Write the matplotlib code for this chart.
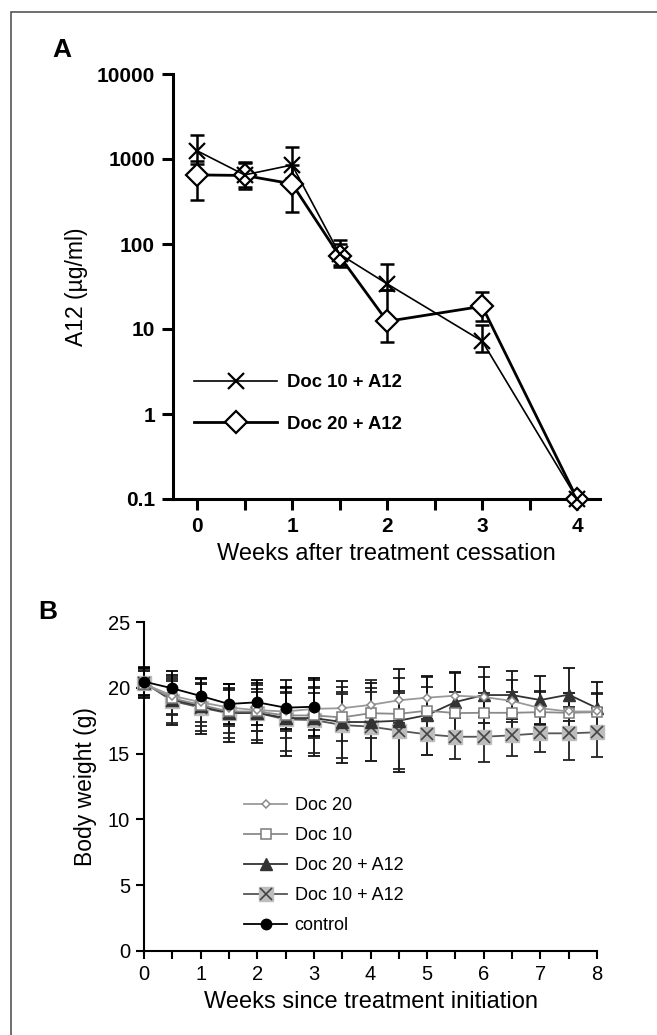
import matplotlib
matplotlib.use("Agg")
import matplotlib.pyplot as plt
from matplotlib.patches import Rectangle
from matplotlib.legend_handler import HandlerTuple
import numpy as np

plt.rcParams['font.family'] = ['Liberation Sans', 'DejaVu Sans']

# ---------------- Panel A data ----------------
weeks_a = [0, 0.5, 1, 1.5, 2, 3, 4]
doc10_a12_conc = [1250, 650, 850, 76, 34, 7.2, 0.1]
doc10_a12_hi = [1900, 900, 1400, 110, 58, 11, 0.1]
doc10_a12_lo = [880, 440, 600, 56, 29, 5.3, 0.1]
doc20_a12_conc = [650, 640, 510, 72, 12.3, 18.5, 0.1]
doc20_a12_hi = [950, 920, 850, 100, 29, 27, 0.1]
doc20_a12_lo = [330, 470, 235, 54, 7.0, 12.5, 0.1]
a_yticks = [0.1, 1, 10, 100, 1000, 10000]
a_yticklabels = ['0.1', '1', '10', '100', '1000', '10000']
a_xticks = [0, 1, 2, 3, 4]

# ---------------- Panel B data ----------------
weeks_b = [0, 0.5, 1, 1.5, 2, 2.5, 3, 3.5, 4, 4.5, 5, 5.5, 6, 6.5, 7, 7.5, 8]
doc20_w = [20.3, 19.4, 18.9, 18.5, 18.3, 18.2, 18.4, 18.45, 18.7, 19.05, 19.25, 19.4, 19.3, 19.0, 18.45, 18.2, 18.2]
doc20_e = [1.0, 1.4, 1.5, 1.4, 1.6, 1.5, 1.6, 1.6, 1.9, 1.7, 1.6, 1.7, 1.5, 1.6, 1.3, 1.4, 1.4]
doc10_w = [20.3, 19.2, 18.7, 18.2, 18.2, 17.9, 17.9, 17.75, 18.07, 18.02, 18.26, 18.08, 18.1, 18.1, 18.15, 18.1, 18.15]
doc10_e = [1.0, 1.3, 1.6, 1.6, 1.5, 1.7, 1.7, 1.8, 1.9, 1.7, 1.8, 1.6, 1.5, 1.6, 1.5, 1.5, 1.4]
doc20a_w = [20.4, 19.1, 18.6, 18.1, 18.1, 17.7, 17.7, 17.4, 17.4, 17.5, 17.93, 18.92, 19.45, 19.45, 19.07, 19.48, 18.46]
doc20a_e = [1.2, 1.9, 2.1, 2.2, 2.3, 2.9, 2.9, 3.1, 3.0, 3.9, 3.0, 2.3, 2.1, 1.8, 1.8, 2.0, 2.0]
doc10a_w = [20.4, 19.0, 18.5, 18.06, 18.1, 17.6, 17.55, 17.17, 17.05, 16.74, 16.46, 16.28, 16.28, 16.39, 16.54, 16.54, 16.62]
doc10a_e = [1.0, 1.7, 1.8, 1.9, 2.1, 2.4, 2.5, 2.5, 2.6, 2.9, 1.6, 1.7, 1.9, 1.6, 1.45, 2.0, 1.85]
weeks_ctrl = [0, 0.5, 1, 1.5, 2, 2.5, 3]
ctrl_w = [20.47, 19.96, 19.38, 18.77, 18.9, 18.49, 18.56]
ctrl_e = [1.0, 1.3, 1.4, 1.5, 1.7, 1.6, 2.2]
b_yticks = [0, 5, 10, 15, 20, 25]
b_xticks = [0, 1, 2, 3, 4, 5, 6, 7, 8]

W, H = 657, 1035
fig = plt.figure(figsize=(W / 100, H / 100), dpi=100)

# Figure border
fig.patches.append(Rectangle((11 / W, -0.01), 1.2, 1 - 12 / H + 0.01, transform=fig.transFigure,
                             fill=False, edgecolor='#555555', linewidth=1.2))

# ================= Panel A =================
axA = fig.add_axes([173 / W, 1 - 499 / H, (600 - 173) / W, (499 - 74) / H])
axA.set_yscale('log')
xa = np.array(weeks_a)
c1 = np.array(doc10_a12_conc)
c2 = np.array(doc20_a12_conc)
err1 = [c1 - np.array(doc10_a12_lo), np.array(doc10_a12_hi) - c1]
err2 = [c2 - np.array(doc20_a12_lo), np.array(doc20_a12_hi) - c2]

axA.errorbar(xa, c2, yerr=err2, fmt='none', ecolor='black', elinewidth=1.8, capsize=4.7, capthick=1.8, clip_on=False)
axA.errorbar(xa, c1, yerr=err1, fmt='none', ecolor='black', elinewidth=1.8, capsize=4.7, capthick=1.8, clip_on=False)
l1, = axA.plot(xa, c1, color='black', lw=1.2, marker='x', ms=12, mew=1.6, label='Doc 10 + A12', clip_on=False, zorder=4)
l2, = axA.plot(xa, c2, color='black', lw=2.0, marker='D', ms=11, mew=1.6, mfc='white', mec='black',
               label='Doc 20 + A12', clip_on=False, zorder=3)

axA.set_ylim(0.1, 10000)
axA.set_xlim(-0.253, 4.24)
axA.set_yticks(a_yticks)
axA.set_yticklabels(a_yticklabels)
axA.yaxis.set_minor_locator(matplotlib.ticker.NullLocator())
axA.set_xticks(a_xticks)
axA.set_xticks([0.5, 1.5, 2.5, 3.5], minor=True)
for s in ['top', 'right']:
    axA.spines[s].set_visible(False)
for s in ['left', 'bottom']:
    axA.spines[s].set_linewidth(2.2)
axA.tick_params(which='both', direction='out', length=8, width=2.2, labelsize=15, pad=5)
for t in axA.get_xticklabels() + axA.get_yticklabels():
    t.set_fontweight('bold')
axA.set_ylabel('A12 (µg/ml)', fontsize=16.5, labelpad=6)
axA.set_xlabel('Weeks after treatment cessation', fontsize=17, labelpad=5)
axA.legend(handles=[l1, l2], loc='center left', bbox_to_anchor=(194 / W, 1 - 403.5 / H),
           bbox_transform=fig.transFigure, frameon=False, borderaxespad=0, borderpad=0,
           handlelength=4.5, handletextpad=0.55, labelspacing=1.3,
           prop={'size': 13.3, 'weight': 'bold'})

fig.text(62 / W, 1 - 50 / H, 'A', fontsize=19, fontweight='bold', ha='center', va='center')

# ================= Panel B =================
axB = fig.add_axes([144 / W, 1 - 951 / H, (597 - 144) / W, (951 - 622) / H])
xb = np.array(weeks_b)
ek = dict(fmt='none', elinewidth=1.3, capsize=4, capthick=1.3, clip_on=False)
axB.errorbar(xb, doc20_w, yerr=doc20_e, ecolor='#222222', **ek)
axB.errorbar(xb, doc10_w, yerr=doc10_e, ecolor='#222222', **ek)
axB.errorbar(xb, doc20a_w, yerr=doc20a_e, ecolor='#111111', **ek)
axB.errorbar(xb, doc10a_w, yerr=doc10a_e, ecolor='#222222', **ek)
axB.errorbar(weeks_ctrl, ctrl_w, yerr=ctrl_e, ecolor='black', **ek)

hb1, = axB.plot(xb, doc20_w, color='#9a9a9a', lw=1.3, marker='D', ms=4.5, mfc='white', mec='#8a8a8a', mew=1.1,
                label='Doc 20', zorder=6, clip_on=False)
hb2, = axB.plot(xb, doc10_w, color='#8a8a8a', lw=1.3, marker='s', ms=7, mfc='white', mec='#7a7a7a', mew=1.1,
                label='Doc 10', zorder=5, clip_on=False)
hb3, = axB.plot(xb, doc20a_w, color='#333333', lw=1.3, marker='^', ms=8.5, mfc='#333333', mec='#333333',
                label='Doc 20 + A12', zorder=4, clip_on=False)
hb4a, = axB.plot(xb, doc10a_w, color='#555555', lw=1.3, marker='s', ms=10.5, mfc='#bdbdbd', mec='#bdbdbd',
                 zorder=3, clip_on=False)
hb4b, = axB.plot(xb, doc10a_w, color='#555555', lw=0, marker='x', ms=8.5, mew=1.2, mec='#444444',
                 zorder=3.5, clip_on=False)
hb5, = axB.plot(weeks_ctrl, ctrl_w, color='black', lw=1.3, marker='o', ms=7.5, mfc='black', mec='black',
                label='control', zorder=7, clip_on=False)

axB.set_xlim(0, 8)
axB.set_ylim(0, 25)
axB.set_yticks(b_yticks)
axB.set_xticks(b_xticks)
axB.set_xticks(np.arange(0.5, 8, 1.0), minor=True)
for s in ['top', 'right']:
    axB.spines[s].set_visible(False)
for s in ['left', 'bottom']:
    axB.spines[s].set_linewidth(1.5)
axB.tick_params(which='both', direction='out', length=6, width=1.5, labelsize=14.5, pad=4)
axB.set_ylabel('Body weight (g)', fontsize=16.5, labelpad=8)
axB.set_xlabel('Weeks since treatment initiation', fontsize=17, labelpad=5)
axB.legend(handles=[hb1, hb2, hb3, (hb4a, hb4b), hb5],
           labels=['Doc 20', 'Doc 10', 'Doc 20 + A12', 'Doc 10 + A12', 'control'],
           handler_map={tuple: HandlerTuple(ndivide=1, pad=0)},
           loc='center left', bbox_to_anchor=(244 / W, 1 - 866 / H), bbox_transform=fig.transFigure,
           frameon=False, borderaxespad=0, borderpad=0, handlelength=2.4, handletextpad=0.4,
           labelspacing=0.72, prop={'size': 13})

fig.text(48 / W, 1 - 612 / H, 'B', fontsize=19, fontweight='bold', ha='center', va='center')

fig.savefig('out.png', dpi=100)
